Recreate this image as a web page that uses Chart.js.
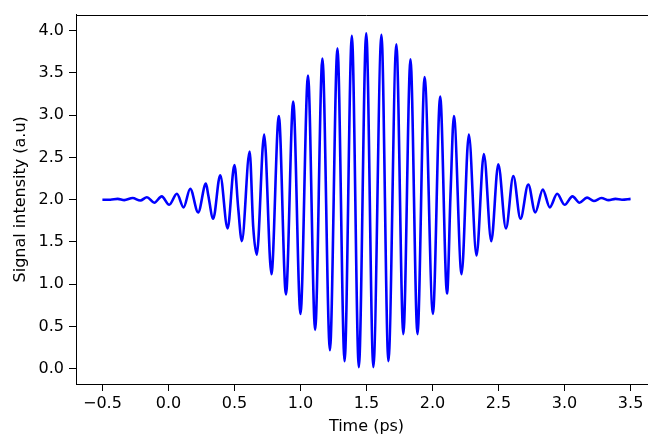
<!DOCTYPE html>
<html>
<head>
<meta charset="utf-8">
<script src="https://cdn.jsdelivr.net/npm/chart.js@4/dist/chart.umd.min.js"></script>
<style>
  html, body { margin: 0; padding: 0; background: #fff; overflow: hidden; }
  #wrap { width: 657px; height: 436px; }
</style>
</head>
<body>
<div id="wrap"><canvas id="signalChart" width="657" height="436"></canvas></div>
<script>
// time axis (ps)
const times = [
  -0.5, -0.44, -0.384, -0.334, -0.271, -0.213, -0.163, -0.107, -0.051,
  0.006, 0.064, 0.115, 0.165, 0.225, 0.284, 0.301, 0.339, 0.392, 0.448,
  0.5, 0.528, 0.556, 0.615, 0.642, 0.669, 0.725, 0.78, 0.836, 0.89,
  0.945, 1.0, 1.057, 1.111, 1.166, 1.223, 1.28, 1.334, 1.389, 1.442,
  1.498, 1.552, 1.613, 1.666, 1.726, 1.779, 1.833, 1.886, 1.94, 2.003,
  2.058, 2.11, 2.137, 2.162, 2.22, 2.275, 2.333, 2.389, 2.445, 2.498,
  2.556, 2.612, 2.666, 2.725, 2.778, 2.835, 2.888, 2.944, 3.0, 3.06,
  3.113, 3.17, 3.222, 3.279, 3.334, 3.385, 3.435, 3.5
];

// signal intensity (a.u)
const signal = [
  2.0, 2.0, 2.01, 1.995, 2.02, 1.99, 2.03, 1.965, 2.04,
  1.94, 2.07, 1.91, 2.13, 1.85, 2.19, 2.06, 1.775, 2.29, 1.66,
  2.41, 1.91, 1.51, 2.57, 1.68, 1.35, 2.77, 1.12, 2.99, 0.88,
  3.16, 0.65, 3.47, 0.46, 3.67, 0.22, 3.79, 0.09, 3.94, 0.02,
  3.97, 0.02, 3.95, 0.09, 3.84, 0.41, 3.66, 0.41, 3.45, 0.65,
  3.22, 0.89, 2.1, 2.99, 1.12, 2.77, 1.34, 2.54, 1.51, 2.42,
  1.66, 2.28, 1.775, 2.18, 1.85, 2.12, 1.91, 2.07, 1.94, 2.04,
  1.965, 2.025, 1.985, 2.02, 1.995, 2.01, 2.0, 2.01
];

const xTicks = [-0.5, 0.0, 0.5, 1.0, 1.5, 2.0, 2.5, 3.0, 3.5];
const yTicks = [0.0, 0.5, 1.0, 1.5, 2.0, 2.5, 3.0, 3.5, 4.0];

const points = times.map((t, i) => ({ x: t, y: signal[i] }));
const font = { family: "'DejaVu Sans', sans-serif", size: 16 };

// top spine only; the plot box runs past the right edge of the window
const topSpine = {
  id: "topSpine",
  afterDraw(chart) {
    const a = chart.chartArea;
    const ctx = chart.ctx;
    const y = Math.round(a.top) + 0.5;
    ctx.save();
    ctx.strokeStyle = "#000";
    ctx.lineWidth = 1;
    ctx.beginPath();
    ctx.moveTo(a.left, y);
    ctx.lineTo(a.right, y);
    ctx.stroke();
    ctx.restore();
  }
};

new Chart(document.getElementById("signalChart"), {
  type: "line",
  data: {
    datasets: [{
      data: points,
      borderColor: "#0000ff",
      borderWidth: 2.6,
      pointRadius: 0,
      cubicInterpolationMode: "monotone",
      fill: false
    }]
  },
  options: {
    responsive: false,
    animation: false,
    layout: { padding: { top: 7, right: 0, left: 0, bottom: 0 } },
    plugins: { legend: { display: false }, tooltip: { enabled: false } },
    scales: {
      x: {
        type: "linear",
        min: -0.7,
        max: 3.7,
        afterBuildTicks: (s) => { s.ticks = xTicks.map(v => ({ value: v })); },
        afterFit: (s) => { s.height = 52; },
        ticks: {
          color: "#000",
          font: font,
          padding: 3,
          maxRotation: 0,
          callback: (v) => (v < 0 ? "\u2212" : "") + Math.abs(v).toFixed(1)
        },
        grid: { drawOnChartArea: false, tickLength: 7, color: "#000" },
        border: { color: "#000" },
        title: { display: true, text: "Time (ps)", color: "#000", font: font, padding: { top: 0, bottom: 0 } }
      },
      y: {
        type: "linear",
        min: -0.18,
        max: 4.19,
        afterBuildTicks: (s) => { s.ticks = yTicks.map(v => ({ value: v })); },
        afterFit: (s) => { s.width = 76; },
        ticks: {
          color: "#000",
          font: font,
          padding: 5,
          callback: (v) => v.toFixed(1)
        },
        grid: { drawOnChartArea: false, tickLength: 7, color: "#000" },
        border: { color: "#000" },
        title: { display: true, text: "Signal intensity (a.u)", color: "#000", font: font, padding: { top: 11, bottom: 0 } }
      }
    }
  },
  plugins: [topSpine]
});
</script>
</body>
</html>
